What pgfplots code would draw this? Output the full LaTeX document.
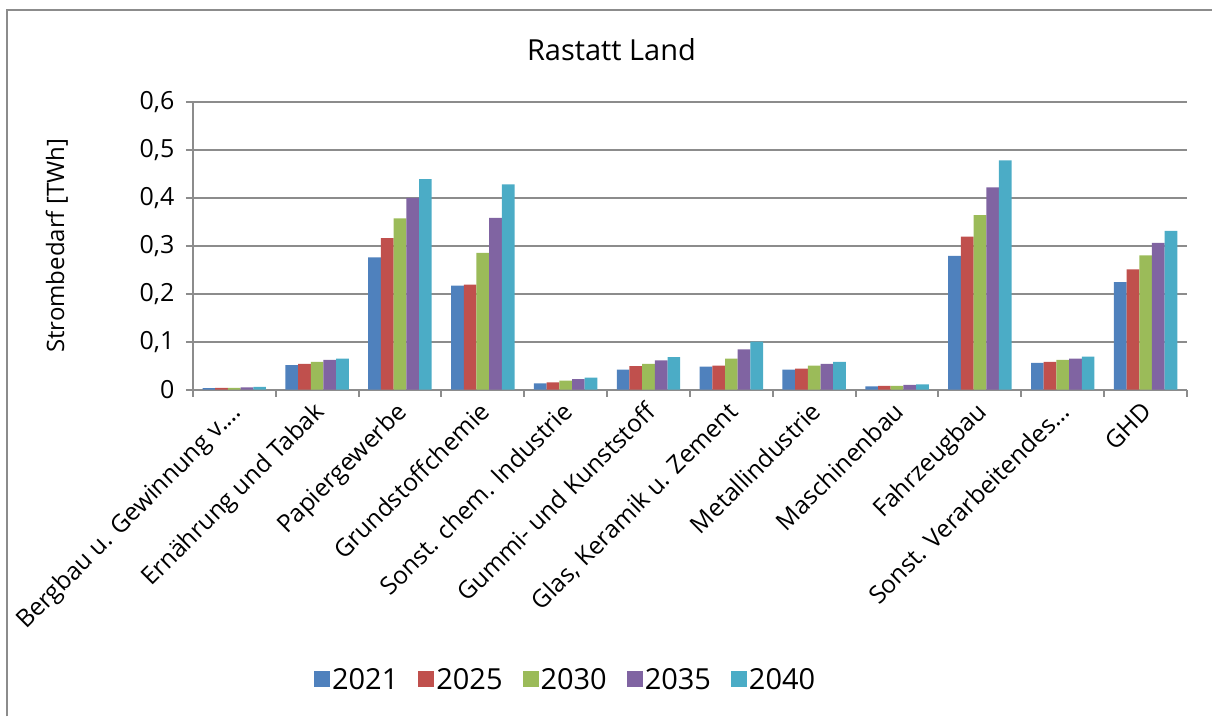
\documentclass[border=0pt]{standalone}
\usepackage{fontspec}
\setmainfont{Open Sans}
\usepackage{pgfplots}
\pgfplotsset{compat=1.18}
\usepackage{pgfplotstable}

\definecolor{cA}{HTML}{4F81BD}
\definecolor{cB}{HTML}{C0504D}
\definecolor{cC}{HTML}{9BBB59}
\definecolor{cD}{HTML}{8064A2}
\definecolor{cE}{HTML}{4BACC6}
\definecolor{gridgray}{HTML}{8C8C8C}

\pgfplotstableread{
x y2021 y2025 y2030 y2035 y2040
1  0.003 0.004 0.004 0.005 0.006
2  0.051 0.054 0.058 0.062 0.065
3  0.276 0.316 0.357 0.400 0.439
4  0.217 0.219 0.285 0.358 0.428
5  0.013 0.015 0.019 0.022 0.025
6  0.042 0.049 0.054 0.061 0.068
7  0.048 0.050 0.065 0.084 0.100
8  0.042 0.044 0.050 0.054 0.058
9  0.007 0.008 0.008 0.010 0.011
10 0.279 0.319 0.364 0.422 0.478
11 0.056 0.058 0.062 0.065 0.069
12 0.224 0.251 0.280 0.306 0.331
}\datatable

\begin{document}
\begin{tikzpicture}[x=1pt,y=1pt]
\path (0,0) rectangle (1213,717);
\draw[gridgray, line width=2pt] (7,0) -- (7,707) -- (1213,707);
\node[font=\fontsize{29}{34}\selectfont] at (612,667) {Rastatt Land};
\begin{axis}[
  at={(193pt,327pt)}, anchor=south west,
  scale only axis,
  width=995pt, height=288pt,
  ybar=0pt, bar width=12.7pt,
  xmin=0.5, xmax=12.5,
  ymin=0, ymax=0.6,
  ytick={0,0.1,...,0.6},
  xtick={1,...,12},
  xticklabels={Bergbau u. Gewinnung v.…, Ernährung und Tabak, Papiergewerbe, Grundstoffchemie, Sonst. chem. Industrie, Gummi- und Kunststoff, {Glas, Keramik u. Zement}, Metallindustrie, Maschinenbau, Fahrzeugbau, Sonst. Verarbeitendes…, GHD},
  minor xtick={0.5,1.5,...,12.5},
  major x tick style={draw=none},
  tick align=outside,
  major tick length=7pt, minor tick length=7pt,
  tick style={gridgray, line width=2pt},
  axis x line*=bottom, axis y line*=left,
  axis line style={gridgray, line width=2pt},
  ymajorgrids, grid style={gridgray, line width=2pt},
  /pgf/number format/fixed, /pgf/number format/precision=1,
  /pgf/number format/use comma, /pgf/number format/assume math mode=true,
  yticklabel style={font=\fontsize{25}{29}\selectfont, xshift=-8pt},
  xticklabel style={font=\fontsize{24.5}{29}\selectfont, rotate=45, anchor=north east, inner sep=2pt, xshift=-4pt, yshift=3pt},
  every axis y label/.style={at={(axis description cs:-0.1367,0.5)}, rotate=90, anchor=center, font=\fontsize{24}{28}\selectfont},
  ylabel={Strombedarf [TWh]},
  legend columns=5,
  legend style={at={(0.375,-1.007)}, anchor=center, draw=none, fill=none,
    font=\fontsize{29}{34}\selectfont,
    /tikz/every even column/.append style={column sep=18pt}},
  legend image code/.code={\fill[#1] (0pt,-8pt) rectangle (16pt,8pt);},
  clip=false,
]
\addplot[fill=cA, draw=none] table[x=x,y=y2021]{\datatable};
\addplot[fill=cB, draw=none] table[x=x,y=y2025]{\datatable};
\addplot[fill=cC, draw=none] table[x=x,y=y2030]{\datatable};
\addplot[fill=cD, draw=none] table[x=x,y=y2035]{\datatable};
\addplot[fill=cE, draw=none] table[x=x,y=y2040]{\datatable};
\legend{2021,2025,2030,2035,2040}
\end{axis}
\end{tikzpicture}
\end{document}
